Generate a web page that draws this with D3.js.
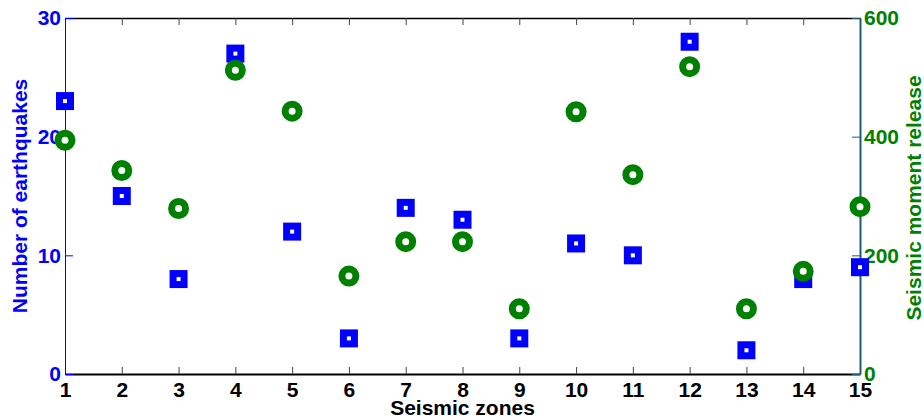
<!DOCTYPE html>
<html>
<head>
<meta charset="utf-8">
<script src="https://cdn.jsdelivr.net/npm/d3@7"></script>
<style>
  body { margin: 0; background: #fff; }
  svg { display: block; font-family: "Liberation Sans", Arial, sans-serif; font-weight: bold; }
</style>
</head>
<body>
<div id="chart"></div>
<script>
// Seismic zones on x, two y axes
const zones = [1, 2, 3, 4, 5, 6, 7, 8, 9, 10, 11, 12, 13, 14, 15];
const earthquakes = [23, 15, 8, 27, 12, 3, 14, 13, 3, 11, 10, 28, 2, 8, 9];
const momentRelease = [394, 343, 279, 512, 443, 165, 223, 223, 110, 442, 336, 518, 110, 173, 282];
const leftTicks = [0, 10, 20, 30];
const rightTicks = [0, 200, 400, 600];

const W = 924, H = 419;
const margin = { top: 18, right: 64, bottom: 45, left: 65 };
const width = W - margin.left - margin.right;
const height = H - margin.top - margin.bottom;

const blue = "#0000ff", green = "#008000", teal = "#215a78";

const svg = d3.select("#chart").append("svg")
    .attr("width", W)
    .attr("height", H)
  .append("g")
    .attr("transform", "translate(" + margin.left + "," + margin.top + ")");

const x = d3.scaleLinear().domain([1, 15]).range([0, width]);
const yL = d3.scaleLinear().domain([0, 30]).range([height, 0]);
const yR = d3.scaleLinear().domain([0, 600]).range([height, 0]);

// top border with inward ticks
const topAxis = svg.append("g")
    .call(d3.axisTop(x).tickValues(zones).tickSizeInner(-7).tickSizeOuter(0).tickFormat(""));
topAxis.select(".domain").attr("stroke", "#000").attr("stroke-width", 1.5);
topAxis.selectAll(".tick line").attr("stroke", "#444");

// bottom axis
const bottomAxis = svg.append("g")
    .attr("transform", "translate(0," + height + ")")
    .call(d3.axisBottom(x).tickValues(zones).tickSizeInner(-7).tickSizeOuter(0).tickPadding(8));
bottomAxis.select(".domain").attr("stroke", "#000").attr("stroke-width", 2);
bottomAxis.selectAll(".tick line").attr("stroke", "#444");
bottomAxis.selectAll("text").attr("fill", "#000").style("font-size", "21px").style("font-weight", "bold");

// left axis
const leftAxis = svg.append("g")
    .call(d3.axisLeft(yL).tickValues(leftTicks).tickSizeInner(-8).tickSizeOuter(0).tickPadding(4));
leftAxis.select(".domain").attr("stroke", blue);
leftAxis.selectAll(".tick line").attr("stroke", blue);
leftAxis.selectAll("text").attr("fill", blue).style("font-size", "21px").style("font-weight", "bold");

// right axis
const rightAxis = svg.append("g")
    .attr("transform", "translate(" + width + ",0)")
    .call(d3.axisRight(yR).tickValues(rightTicks).tickSizeInner(-8).tickSizeOuter(0).tickPadding(4));
rightAxis.select(".domain").attr("stroke", teal).attr("stroke-width", 2);
rightAxis.selectAll(".tick line").attr("stroke", teal);
rightAxis.selectAll("text").attr("fill", green).style("font-size", "21px").style("font-weight", "bold");

// earthquake counts: blue squares
svg.append("g")
    .selectAll(".sq")
    .data(zones)
  .enter().append("rect")
    .attr("class", "sq")
    .attr("x", (d, i) => x(d) - 5.5)
    .attr("y", (d, i) => yL(earthquakes[i]) - 5.5)
    .attr("width", 11)
    .attr("height", 11)
    .attr("fill", "#fff")
    .attr("stroke", blue)
    .attr("stroke-width", 7);

// moment release: green rings
svg.append("g")
    .selectAll(".ring")
    .data(zones)
  .enter().append("circle")
    .attr("class", "ring")
    .attr("cx", d => x(d))
    .attr("cy", (d, i) => yR(momentRelease[i]))
    .attr("r", 7)
    .attr("fill", "#fff")
    .attr("stroke", green)
    .attr("stroke-width", 7);

// axis titles
svg.append("text")
    .attr("x", width / 2)
    .attr("y", height + 41)
    .attr("text-anchor", "middle")
    .style("font-size", "21px")
    .attr("fill", "#000")
    .text("Seismic zones");

svg.append("text")
    .attr("transform", "translate(" + (27 - margin.left) + "," + (height / 2) + ") rotate(-90)")
    .attr("text-anchor", "middle")
    .style("font-size", "21px")
    .attr("fill", blue)
    .text("Number of earthquakes");

svg.append("text")
    .attr("transform", "translate(" + (921 - margin.left) + "," + (height / 2 + 2) + ") rotate(-90)")
    .attr("text-anchor", "middle")
    .style("font-size", "21px")
    .attr("fill", green)
    .text("Seismic moment release");
</script>
</body>
</html>
